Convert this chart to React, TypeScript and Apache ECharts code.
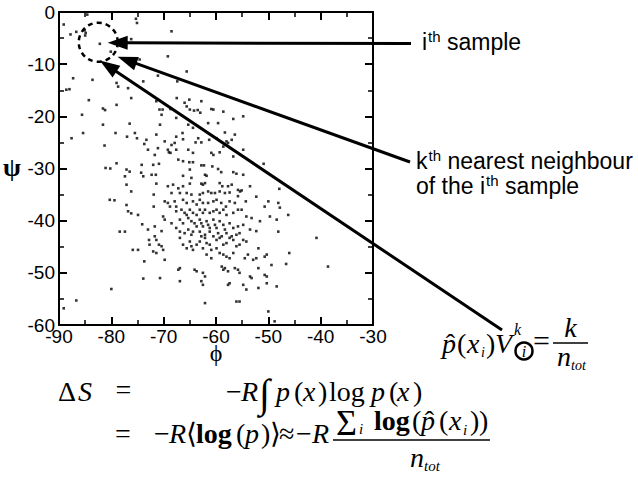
import React, { useEffect, useRef } from "react";
import * as echarts from "echarts";

// ---- data (phi, psi) ----
const phiRange = [-90, -30];
const psiRange = [-60, 0];
const tickStep = 10;

const samplePoints: [number, number][] = [
  // upper / left sparse region
  [-84.6, -0.5], [-89.1, -2.4], [-87.8, -4.3], [-86.7, -3.8], [-85.1, -3.5], [-84.9, -4.0], [-85.0, -4.5],
  [-75.3, -1.3], [-75.1, -2.1], [-82.2, -6.1], [-80.1, -7.6], [-76.2, -5.2], [-68.5, -3.7], [-69.2, -8.5],
  [-74.6, -9.1], [-65.6, -11.4], [-87.3, -12.7], [-83.6, -13.0], [-79.0, -13.6], [-78.7, -14.3], [-73.9, -13.3],
  [-76.8, -14.6], [-71.1, -12.2], [-67.4, -13.3], [-88.6, -14.9], [-88.0, -14.8], [-84.3, -16.9], [-81.6, -18.5],
  [-79.0, -17.8], [-76.2, -16.5], [-71.4, -17.1], [-70.8, -18.7], [-67.5, -16.5], [-66.0, -17.4], [-65.6, -18.1],
  [-65.0, -18.7], [-64.2, -18.9], [-63.5, -18.8], [-63.0, -19.3], [-65.1, -16.8], [-62.8, -17.1],
  // -17 .. -38, left part
  [-87.6, -24.2], [-85.6, -19.7], [-85.4, -23.2], [-81.2, -18.8], [-81.3, -25.6], [-81.6, -21.6], [-79.0, -29.0],
  [-81.1, -29.9], [-80.2, -30.0], [-79.2, -23.2], [-77.0, -23.9], [-76.5, -21.4], [-75.5, -23.2], [-75.1, -24.2],
  [-77.1, -30.2], [-76.5, -30.6], [-77.4, -31.5], [-77.1, -33.1], [-76.2, -34.4], [-80.3, -36.0], [-79.4, -36.1],
  [-74.3, -30.8], [-73.7, -25.3], [-73.3, -24.5], [-73.9, -31.5], [-74.2, -29.3], [-72.0, -29.3], [-71.7, -27.4],
  [-71.1, -26.1], [-73.0, -26.4], [-71.4, -23.5], [-70.4, -19.7], [-70.2, -18.7], [-68.7, -18.6], [-70.7, -21.6],
  [-69.2, -26.4], [-69.0, -26.9], [-68.7, -27.0], [-67.6, -20.3], [-67.6, -23.9], [-69.8, -24.8], [-68.5, -25.5],
  [-67.9, -25.1], [-67.6, -26.4], [-67.2, -28.3], [-66.3, -28.6], [-64.4, -27.0], [-65.3, -26.4],
  // -17 .. -28, middle part
  [-60.9, -18.6], [-60.5, -18.7], [-58.6, -19.1], [-56.7, -20.5], [-54.8, -20.0], [-61.5, -21.3], [-59.6, -21.3],
  [-65.3, -21.6], [-64.4, -22.2], [-66.4, -23.2], [-66.3, -24.4], [-63.9, -25.0], [-63.4, -24.2], [-62.8, -25.0],
  [-61.3, -24.5], [-59.9, -24.2], [-58.3, -23.1], [-58.0, -24.8], [-57.0, -24.5], [-56.4, -23.5], [-57.7, -25.1],
  [-59.3, -26.9], [-58.6, -25.8], [-56.7, -27.7], [-54.8, -26.4], [-60.9, -27.0], [-60.5, -27.4], [-50.9, -29.1],
  // main cluster, upper half
  [-70.9, -29.1], [-65.1, -28.8], [-64.4, -28.8], [-62.8, -29.4], [-62.3, -29.4], [-60.7, -29.6], [-59.6, -30.1],
  [-59.0, -30.7], [-65.0, -30.2], [-62.1, -31.2], [-61.8, -31.4], [-66.3, -31.4], [-71.5, -31.2], [-72.3, -31.2],
  [-64.7, -31.8], [-56.7, -30.7], [-56.1, -31.0], [-54.8, -31.2], [-62.8, -32.9], [-62.5, -33.1], [-62.1, -32.8],
  [-68.2, -33.1], [-69.2, -33.4], [-66.3, -33.4], [-65.0, -32.9], [-71.4, -32.9], [-59.3, -32.8], [-58.8, -33.4],
  [-57.7, -33.4], [-57.0, -33.1], [-55.8, -34.1], [-55.4, -34.4], [-55.1, -34.2], [-53.5, -33.4], [-71.9, -35.0],
  [-67.2, -33.8], [-68.5, -34.7], [-66.9, -34.7], [-65.6, -34.7], [-64.7, -35.0], [-63.1, -35.0], [-62.5, -34.7],
  [-61.5, -34.4], [-60.9, -34.7], [-60.2, -34.7], [-59.3, -34.4], [-58.3, -34.7], [-57.4, -34.6], [-55.8, -35.3],
  [-69.8, -36.3], [-69.2, -36.6], [-67.9, -36.3], [-67.6, -37.3], [-66.3, -36.0], [-65.6, -36.6], [-64.4, -36.3],
  [-63.7, -36.9], [-63.1, -36.0], [-62.5, -36.6], [-61.5, -36.6], [-60.5, -36.3], [-59.9, -36.0], [-59.0, -36.6],
  [-58.1, -37.3], [-57.4, -36.3], [-56.4, -36.6], [-55.1, -37.9], [-54.3, -36.3], [-52.3, -35.4], [-50.0, -36.3],
  [-48.1, -36.6], [-50.7, -37.3], [-71.9, -37.3], [-68.8, -37.3], [-67.6, -38.2], [-66.6, -37.9], [-66.0, -38.5],
  [-65.6, -38.9], [-65.0, -37.9], [-64.4, -38.5], [-63.7, -38.9], [-63.1, -37.9], [-62.5, -38.5], [-62.1, -37.9],
  [-61.2, -38.5], [-60.5, -38.2], [-59.9, -37.9], [-59.3, -38.5], [-58.6, -37.9], [-58.0, -38.9], [-56.7, -38.5],
  [-55.8, -37.9], [-54.2, -39.2], [-53.2, -39.5], [-51.6, -40.1], [-49.7, -39.2], [-48.4, -39.8], [-48.1, -42.1],
  [-47.9, -33.9], [-47.8, -37.5], [-46.2, -38.9],
  // main cluster, centre
  [-70.1, -39.2], [-69.8, -39.8], [-68.5, -40.5], [-66.9, -39.8], [-66.3, -40.5], [-65.3, -39.5], [-64.7, -40.1],
  [-64.1, -40.5], [-63.7, -41.1], [-63.1, -39.8], [-62.8, -40.5], [-62.5, -41.1], [-61.8, -40.1], [-61.5, -40.8],
  [-61.2, -41.4], [-60.5, -39.8], [-60.2, -40.8], [-59.9, -41.4], [-59.3, -40.1], [-58.6, -40.8], [-58.3, -41.7],
  [-57.4, -40.5], [-56.7, -41.4], [-55.8, -41.1], [-54.8, -40.8], [-53.5, -41.7], [-52.3, -42.0], [-67.6, -41.4],
  [-66.9, -42.1], [-66.0, -42.4], [-65.3, -41.7], [-64.7, -42.7], [-64.4, -42.1], [-63.1, -42.1], [-62.1, -42.7],
  [-61.2, -42.1], [-60.5, -43.0], [-59.6, -42.4], [-58.9, -43.0], [-58.0, -42.4], [-57.0, -43.0], [-56.1, -42.7],
  [-55.5, -42.4], [-71.7, -41.1], [-70.4, -42.0], [-73.0, -41.7],
  // main cluster, lower half
  [-71.7, -43.0], [-71.4, -43.7], [-70.4, -44.9], [-70.9, -44.6], [-70.1, -45.6], [-72.0, -45.9], [-71.4, -46.2],
  [-69.8, -47.5], [-66.9, -43.3], [-66.3, -44.6], [-65.6, -45.3], [-65.0, -44.0], [-64.7, -44.9], [-64.4, -45.6],
  [-63.7, -44.6], [-63.1, -44.0], [-62.8, -43.0], [-62.1, -43.3], [-61.8, -44.3], [-61.2, -44.6], [-62.5, -45.3],
  [-60.9, -45.6], [-59.9, -45.3], [-59.9, -43.7], [-59.3, -43.3], [-58.6, -44.6], [-58.0, -44.3], [-57.4, -43.3],
  [-56.7, -43.7], [-56.1, -44.9], [-55.5, -44.6], [-54.8, -43.7], [-54.2, -44.0], [-61.8, -46.5], [-60.9, -47.2],
  [-59.3, -46.2], [-58.6, -46.5], [-58.0, -46.9], [-57.4, -47.2], [-56.7, -46.2], [-54.5, -47.2], [-53.9, -46.5],
  [-52.9, -47.5], [-52.3, -47.2], [-51.9, -45.3], [-50.7, -46.9], [-50.3, -46.5], [-49.4, -48.5], [-66.9, -49.1],
  [-67.2, -49.4], [-64.1, -49.4], [-63.7, -49.7], [-62.5, -50.0], [-62.1, -50.7], [-62.8, -51.6], [-62.5, -52.3],
  [-58.9, -48.8], [-58.6, -49.4], [-58.3, -49.1], [-57.7, -49.7], [-57.7, -52.3], [-57.4, -52.0], [-56.4, -49.1],
  [-55.8, -49.4], [-55.5, -50.0], [-53.5, -50.7], [-53.2, -51.0], [-51.9, -49.1], [-50.7, -50.4], [-50.3, -50.7],
  [-50.3, -52.0], [-54.8, -52.3], [-54.2, -53.2], [-51.9, -52.9], [-48.4, -52.6], [-66.9, -51.6], [-70.7, -51.0],
  [-62.1, -55.8], [-56.1, -55.5], [-55.5, -55.5], [-50.0, -57.4], [-48.8, -59.3],
  // outliers
  [-40.8, -43.3], [-38.6, -48.8], [-46.0, -46.2], [-46.6, -48.3],
  [-89.1, -56.8], [-86.7, -55.3], [-80.0, -53.1], [-78.4, -42.1], [-77.4, -42.1], [-77.1, -37.0], [-76.8, -38.2],
  [-76.2, -38.6], [-74.9, -38.9], [-75.9, -45.6], [-74.9, -45.6], [-74.1, -40.7], [-73.7, -47.8], [-73.9, -51.1],
  [-72.8, -43.7], [-72.7, -44.6],
];

// annotation anchors (data coordinates)
const ithSample: [number, number] = [-82.5, -5.8];
const arrowTipSample: [number, number] = [-80.7, -5.9];
const arrowTipCircle: [number, number] = [-78.8, -8.6];
const arrowTipFormula: [number, number] = [-82.2, -9.3];

const SERIF = '"Liberation Serif", "Times New Roman", serif';
const SANS = '"Liberation Sans", Arial, sans-serif';

type Piece = { t: string; size?: number; it?: boolean; b?: boolean; dy?: number; dx?: number; at?: number; hat?: boolean; fam?: string };

let measureCtx: CanvasRenderingContext2D | null = null;
function measure(text: string, font: string) {
  if (!measureCtx) measureCtx = document.createElement("canvas").getContext("2d");
  measureCtx!.font = font;
  return measureCtx!.measureText(text).width;
}
function fontOf(size: number, it?: boolean, b?: boolean, fam = SERIF) {
  return `${it ? "italic " : ""}${b ? "bold " : ""}${size}px ${fam}`;
}
function txt(x: number, baseline: number, s: string, font: string, size: number, align = "left") {
  return {
    type: "text",
    silent: true,
    x,
    y: baseline - 0.34 * size,
    style: { text: s, font, fill: "#000", align, textAlign: align, verticalAlign: "middle", textVerticalAlign: "middle" },
  };
}
function seq(x0: number, baseline: number, pieces: Piece[], def: number, fam = SERIF) {
  const out: any[] = [];
  let x = x0;
  for (const p of pieces) {
    const size = p.size ?? def;
    const font = fontOf(size, p.it, p.b, p.fam ?? fam);
    if (p.at !== undefined) x = p.at;
    x += p.dx ?? 0;
    const w = measure(p.t, font);
    out.push(txt(x, baseline + (p.dy ?? 0), p.t, font, size));
    if (p.hat) out.push(txt(x + w / 2 + 1.5, baseline + (p.dy ?? 0), "ˆ", fontOf(size), size, "center"));
    x += w;
  }
  return out;
}
function arrow(sx: number, sy: number, tx: number, ty: number) {
  const dx = tx - sx, dy = ty - sy;
  const len = Math.hypot(dx, dy);
  const ux = dx / len, uy = dy / len;
  const L = 20, W = 7;
  const bx = tx - ux * L, by = ty - uy * L;
  const nx = -uy, ny = ux;
  return [
    { type: "line", silent: true, shape: { x1: sx, y1: sy, x2: bx + ux * 2, y2: by + uy * 2 }, style: { stroke: "#000", lineWidth: 3 } },
    {
      type: "polygon",
      silent: true,
      shape: { points: [[tx, ty], [bx + nx * W, by + ny * W], [bx - nx * W, by - ny * W]] },
      style: { fill: "#000" },
    },
  ];
}

function axisCommon(showLabel: boolean, margin = 3) {
  return {
    type: "value",
    interval: tickStep,
    axisLine: { show: true, onZero: false, lineStyle: { color: "#000", width: 2 } },
    axisTick: { show: true, inside: true, length: 8, lineStyle: { color: "#000", width: 2 } },
    minorTick: { show: true, splitNumber: 2, length: 5, lineStyle: { color: "#000", width: 1.5 } },
    splitLine: { show: false },
    axisLabel: { show: showLabel, color: "#000", fontSize: 19, fontFamily: SANS, margin },
  };
}

export default function App() {
  const ref = useRef<HTMLDivElement>(null);
  useEffect(() => {
    const chart = echarts.init(ref.current!, undefined, { renderer: "svg" });
    chart.setOption({
      animation: false,
      backgroundColor: "#fff",
      grid: { left: 59, top: 12, width: 314, height: 313, containLabel: false, outerBoundsMode: "none" },
      xAxis: [
        { ...axisCommon(true, 2), position: "bottom", min: phiRange[0], max: phiRange[1] },
        { ...axisCommon(false), position: "top", min: phiRange[0], max: phiRange[1] },
      ],
      yAxis: [
        { ...axisCommon(true, 4), position: "left", min: psiRange[0], max: psiRange[1] },
        { ...axisCommon(false), position: "right", min: psiRange[0], max: psiRange[1] },
      ],
      series: [
        {
          type: "scatter",
          xAxisIndex: 0,
          yAxisIndex: 0,
          symbol: "rect",
          symbolSize: 2.6,
          itemStyle: { color: "#000" },
          data: samplePoints,
        },
      ],
    });

    const px = (p: [number, number]) => chart.convertToPixel({ xAxisIndex: 0, yAxisIndex: 0 }, p) as number[];
    const c = px(ithSample);
    const t1 = px(arrowTipSample);
    const t2 = px(arrowTipCircle);
    const t3 = px(arrowTipFormula);

    const g: any[] = [];
    // axis names
    g.push(txt(12, 176, "ψ", fontOf(26, false, true, SERIF), 26, "center"));
    g.push(txt(216, 361, "ϕ", fontOf(24, false, false, SERIF), 24, "center"));
    // dashed neighbourhood circle
    g.push({
      type: "circle",
      silent: true,
      shape: { cx: c[0], cy: c[1], r: 19.5 },
      style: { fill: "none", stroke: "#000", lineWidth: 2.5, lineDash: [5, 4] },
    });
    g.push(...arrow(411, 43.5, t1[0], t1[1]));
    g.push(...arrow(410, 162, t2[0], t2[1]));
    g.push(...arrow(502, 330, t3[0], t3[1]));

    // annotation texts
    g.push(...seq(422, 50, [{ t: "i" }, { t: "th", size: 15, dy: -8, dx: 1 }, { t: " sample" }], 23, SANS));
    g.push(...seq(416, 169, [{ t: "k" }, { t: "th", size: 15, dy: -8, dx: 1 }, { t: " nearest neighbour" }], 23, SANS));
    g.push(...seq(416, 194, [{ t: "of the i" }, { t: "th", size: 15, dy: -8, dx: 1 }, { t: " sample" }], 23, SANS));

    // formula: p̂(x_i) V_i^k = k / n_tot
    g.push(...seq(442, 353, [
      { t: "p", it: true, hat: true, at: 442 },
      { t: "(", at: 457 },
      { t: "x", it: true, at: 467 },
      { t: "i", it: true, size: 14, dy: 4, at: 481 },
      { t: ")", at: 486 },
      { t: "V", it: true, at: 495 },
    ], 28));
    g.push(txt(514, 335, "k", fontOf(16, true), 16));
    g.push(txt(524, 356.5, "i", fontOf(16, true), 16, "center"));
    g.push({ type: "circle", silent: true, shape: { cx: 524, cy: 351, r: 8.5 }, style: { fill: "none", stroke: "#000", lineWidth: 2.5 } });
    g.push(txt(541.5, 351, "=", fontOf(30), 30, "center"));
    g.push(txt(570.5, 337, "k", fontOf(28, true), 28, "center"));
    g.push({ type: "line", silent: true, shape: { x1: 553, y1: 343, x2: 588, y2: 343 }, style: { stroke: "#000", lineWidth: 1.5 } });
    g.push(...seq(557, 366, [{ t: "n", it: true }, { t: "tot", it: true, size: 14, dy: 4 }], 28));

    // ΔS line 1
    g.push(...seq(58, 401, [{ t: "Δ" }, { t: "S", it: true, dx: 2 }], 28));
    g.push(txt(123.5, 399, "=", fontOf(28), 28, "center"));
    g.push(...seq(227, 401, [
      { t: "−", at: 226 }, { t: "R", it: true, at: 241 }, { t: "∫", size: 40, dy: 6, at: 259 },
      { t: "p", it: true, at: 276 }, { t: "(", at: 294 }, { t: "x", it: true, at: 303 }, { t: ")", at: 318 },
      { t: "log", at: 329 }, { t: "p", it: true, at: 371 }, { t: "(", at: 389 }, { t: "x", it: true, at: 397 }, { t: ")", at: 413 },
    ], 28));
    // line 2
    g.push(txt(123, 443, "=", fontOf(28), 28, "center"));
    g.push(...seq(155, 443, [
      { t: "−", at: 154 }, { t: "R", it: true, at: 169 }, { t: "⟨", at: 186 }, { t: "log", b: true, at: 196 }, { t: "(", at: 236 },
      { t: "p", it: true, at: 245 }, { t: ")", at: 261 }, { t: "⟩", at: 270 }, { t: "≈", at: 279 }, { t: "−", at: 296 }, { t: "R", it: true, at: 312 },
    ], 28));
    g.push(...seq(337, 430, [
      { t: "Σ", size: 36, dy: 5, at: 336 }, { t: "i", it: true, size: 15, dy: 4, at: 359 }, { t: "log", b: true, at: 374 },
      { t: "(", at: 412 }, { t: "p", it: true, hat: true, at: 421 }, { t: "(", at: 439 }, { t: "x", it: true, at: 449 },
      { t: "i", it: true, size: 15, dy: 5, at: 463 }, { t: ")", at: 470 }, { t: ")", at: 479 },
    ], 28));
    g.push({ type: "line", silent: true, shape: { x1: 333, y1: 440, x2: 490, y2: 440 }, style: { stroke: "#000", lineWidth: 1.5 } });
    g.push(...seq(410, 467, [{ t: "n", it: true }, { t: "tot", it: true, size: 15, dy: 4 }], 28));

    chart.setOption({ graphic: { elements: g } });
    return () => chart.dispose();
  }, []);
  return <div ref={ref} style={{ position: "fixed", left: 0, top: 0, width: 638, height: 491, background: "#fff" }} />;
}
